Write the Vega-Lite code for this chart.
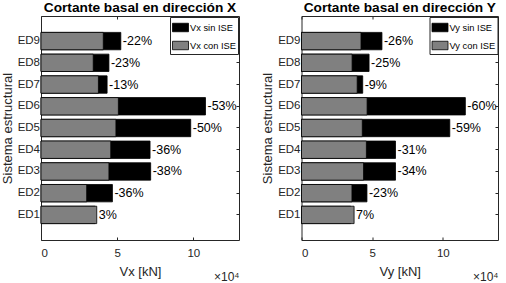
{
  "$schema": "https://vega.github.io/schema/vega-lite/v6.json",
  "padding": {"left": 0, "top": 0, "right": 0, "bottom": 0},
  "config": {
    "font": "Liberation Sans",
    "view": {"stroke": "#262626", "strokeWidth": 1},
    "axis": {"grid": false, "domain": false, "tickColor": "#262626", "tickSize": -3, "labelColor": "#262626", "labelFontSize": 11.5, "titleColor": "#262626", "titleFontSize": 13, "titleFontWeight": "normal"},
    "legend": {"orient": "top-right", "offset": 1, "padding": 2, "strokeColor": "#262626", "fillColor": "white", "labelFontSize": 9.3, "labelColor": "black", "symbolType": "M-1,-0.53L1,-0.53L1,0.53L-1,0.53Z", "symbolSize": 256, "symbolStrokeColor": "black", "symbolStrokeWidth": 0.8, "labelOffset": 1, "rowPadding": 3, "cornerRadius": 0},
    "title": {"fontSize": 13.7, "fontWeight": "bold", "color": "black", "offset": 0.5, "anchor": "middle"}
  },
  "bounds": "flush",
  "spacing": 62.5,
  "datasets": {
    "vx": [
      {"sis": "ED9", "serie": "Vx sin ISE", "v": 52400, "pct": "-22%"},
      {"sis": "ED8", "serie": "Vx sin ISE", "v": 44600, "pct": "-23%"},
      {"sis": "ED7", "serie": "Vx sin ISE", "v": 43400, "pct": "-13%"},
      {"sis": "ED6", "serie": "Vx sin ISE", "v": 108000, "pct": "-53%"},
      {"sis": "ED5", "serie": "Vx sin ISE", "v": 98300, "pct": "-50%"},
      {"sis": "ED4", "serie": "Vx sin ISE", "v": 71600, "pct": "-36%"},
      {"sis": "ED3", "serie": "Vx sin ISE", "v": 72000, "pct": "-38%"},
      {"sis": "ED2", "serie": "Vx sin ISE", "v": 46900, "pct": "-36%"},
      {"sis": "ED1", "serie": "Vx sin ISE", "v": 35500, "pct": "3%"},
      {"sis": "ED9", "serie": "Vx con ISE", "v": 40900, "pct": "-22%"},
      {"sis": "ED8", "serie": "Vx con ISE", "v": 34300, "pct": "-23%"},
      {"sis": "ED7", "serie": "Vx con ISE", "v": 37700, "pct": "-13%"},
      {"sis": "ED6", "serie": "Vx con ISE", "v": 50800, "pct": "-53%"},
      {"sis": "ED5", "serie": "Vx con ISE", "v": 49200, "pct": "-50%"},
      {"sis": "ED4", "serie": "Vx con ISE", "v": 45800, "pct": "-36%"},
      {"sis": "ED3", "serie": "Vx con ISE", "v": 44600, "pct": "-38%"},
      {"sis": "ED2", "serie": "Vx con ISE", "v": 30000, "pct": "-36%"},
      {"sis": "ED1", "serie": "Vx con ISE", "v": 36600, "pct": "3%"}
    ],
    "vy": [
      {"sis": "ED9", "serie": "Vy sin ISE", "v": 56900, "pct": "-26%"},
      {"sis": "ED8", "serie": "Vy sin ISE", "v": 47800, "pct": "-25%"},
      {"sis": "ED7", "serie": "Vy sin ISE", "v": 43300, "pct": "-9%"},
      {"sis": "ED6", "serie": "Vy sin ISE", "v": 115900, "pct": "-60%"},
      {"sis": "ED5", "serie": "Vy sin ISE", "v": 104900, "pct": "-59%"},
      {"sis": "ED4", "serie": "Vy sin ISE", "v": 66500, "pct": "-31%"},
      {"sis": "ED3", "serie": "Vy sin ISE", "v": 66500, "pct": "-34%"},
      {"sis": "ED2", "serie": "Vy sin ISE", "v": 46300, "pct": "-23%"},
      {"sis": "ED1", "serie": "Vy sin ISE", "v": 34800, "pct": "7%"},
      {"sis": "ED9", "serie": "Vy con ISE", "v": 42100, "pct": "-26%"},
      {"sis": "ED8", "serie": "Vy con ISE", "v": 35800, "pct": "-25%"},
      {"sis": "ED7", "serie": "Vy con ISE", "v": 39400, "pct": "-9%"},
      {"sis": "ED6", "serie": "Vy con ISE", "v": 46400, "pct": "-60%"},
      {"sis": "ED5", "serie": "Vy con ISE", "v": 43000, "pct": "-59%"},
      {"sis": "ED4", "serie": "Vy con ISE", "v": 45900, "pct": "-31%"},
      {"sis": "ED3", "serie": "Vy con ISE", "v": 43900, "pct": "-34%"},
      {"sis": "ED2", "serie": "Vy con ISE", "v": 35700, "pct": "-23%"},
      {"sis": "ED1", "serie": "Vy con ISE", "v": 37200, "pct": "7%"}
    ]
  },
  "resolve": {"scale": {"color": "independent", "x": "independent", "y": "independent"}, "legend": {"color": "independent"}},
  "hconcat": [
    {
      "width": 198,
      "height": 224,
      "title": {"text": "Cortante basal en dirección X"},
      "data": {"name": "vx"},
      "layer": [
        {
          "mark": {"type": "bar", "stroke": "black", "strokeWidth": 0.8},
          "encoding": {
            "y": {"field": "sis", "type": "nominal", "sort": ["ED9", "ED8", "ED7", "ED6", "ED5", "ED4", "ED3", "ED2", "ED1"], "scale": {"paddingInner": 0.2, "paddingOuter": 0.755}, "axis": {"orient": "left", "title": "Sistema estructural", "labelPadding": 4.5, "titlePadding": 3}},
            "x": {"field": "v", "type": "quantitative", "stack": null, "scale": {"domain": [0, 130000], "nice": false}, "axis": {"orient": "bottom", "values": [0, 50000, 100000], "labelExpr": "datum.value / 10000", "title": "Vx [kN]", "labelPadding": 10.5, "titlePadding": 6}},
            "color": {"field": "serie", "type": "nominal", "scale": {"domain": ["Vx sin ISE", "Vx con ISE"], "range": ["#000000", "#808080"]}, "legend": {"title": null}}
          }
        },
        {
          "mark": {"type": "text", "align": "left", "baseline": "middle", "dx": 2, "fontSize": 12.5, "color": "black"},
          "encoding": {
            "y": {"field": "sis", "type": "nominal", "sort": ["ED9", "ED8", "ED7", "ED6", "ED5", "ED4", "ED3", "ED2", "ED1"], "axis": {"orient": "right", "labels": false, "title": null}},
            "x": {"aggregate": "max", "field": "v", "type": "quantitative", "axis": {"orient": "top", "labels": false, "values": [0, 50000, 100000], "title": null}},
            "text": {"field": "pct"}
          }
        },
        {
          "mark": {"type": "rule", "opacity": 0},
          "encoding": {
            "x": {"aggregate": "max", "field": "v", "type": "quantitative", "axis": {"orient": "bottom", "labels": false, "ticks": false, "title": "×10⁴", "titleAnchor": "end", "titleFontSize": 12, "titlePadding": 31}}
          }
        }
      ],
      "resolve": {"axis": {"x": "independent", "y": "independent"}}
    },
    {
      "width": 196.5,
      "height": 224,
      "title": {"text": "Cortante basal en dirección Y"},
      "data": {"name": "vy"},
      "layer": [
        {
          "mark": {"type": "bar", "stroke": "black", "strokeWidth": 0.8},
          "encoding": {
            "y": {"field": "sis", "type": "nominal", "sort": ["ED9", "ED8", "ED7", "ED6", "ED5", "ED4", "ED3", "ED2", "ED1"], "scale": {"paddingInner": 0.2, "paddingOuter": 0.755}, "axis": {"orient": "left", "title": "Sistema estructural", "labelPadding": 4.5, "titlePadding": 3}},
            "x": {"field": "v", "type": "quantitative", "stack": null, "scale": {"domain": [0, 139000], "nice": false}, "axis": {"orient": "bottom", "values": [0, 50000, 100000], "labelExpr": "datum.value / 10000", "title": "Vy [kN]", "labelPadding": 10.5, "titlePadding": 6}},
            "color": {"field": "serie", "type": "nominal", "scale": {"domain": ["Vy sin ISE", "Vy con ISE"], "range": ["#000000", "#808080"]}, "legend": {"title": null}}
          }
        },
        {
          "mark": {"type": "text", "align": "left", "baseline": "middle", "dx": 2, "fontSize": 12.5, "color": "black"},
          "encoding": {
            "y": {"field": "sis", "type": "nominal", "sort": ["ED9", "ED8", "ED7", "ED6", "ED5", "ED4", "ED3", "ED2", "ED1"], "axis": {"orient": "right", "labels": false, "title": null}},
            "x": {"aggregate": "max", "field": "v", "type": "quantitative", "axis": {"orient": "top", "labels": false, "values": [0, 50000, 100000], "title": null}},
            "text": {"field": "pct"}
          }
        },
        {
          "mark": {"type": "rule", "opacity": 0},
          "encoding": {
            "x": {"aggregate": "max", "field": "v", "type": "quantitative", "axis": {"orient": "bottom", "labels": false, "ticks": false, "title": "×10⁴", "titleAnchor": "end", "titleFontSize": 12, "titlePadding": 31}}
          }
        }
      ],
      "resolve": {"axis": {"x": "independent", "y": "independent"}}
    }
  ]
}
